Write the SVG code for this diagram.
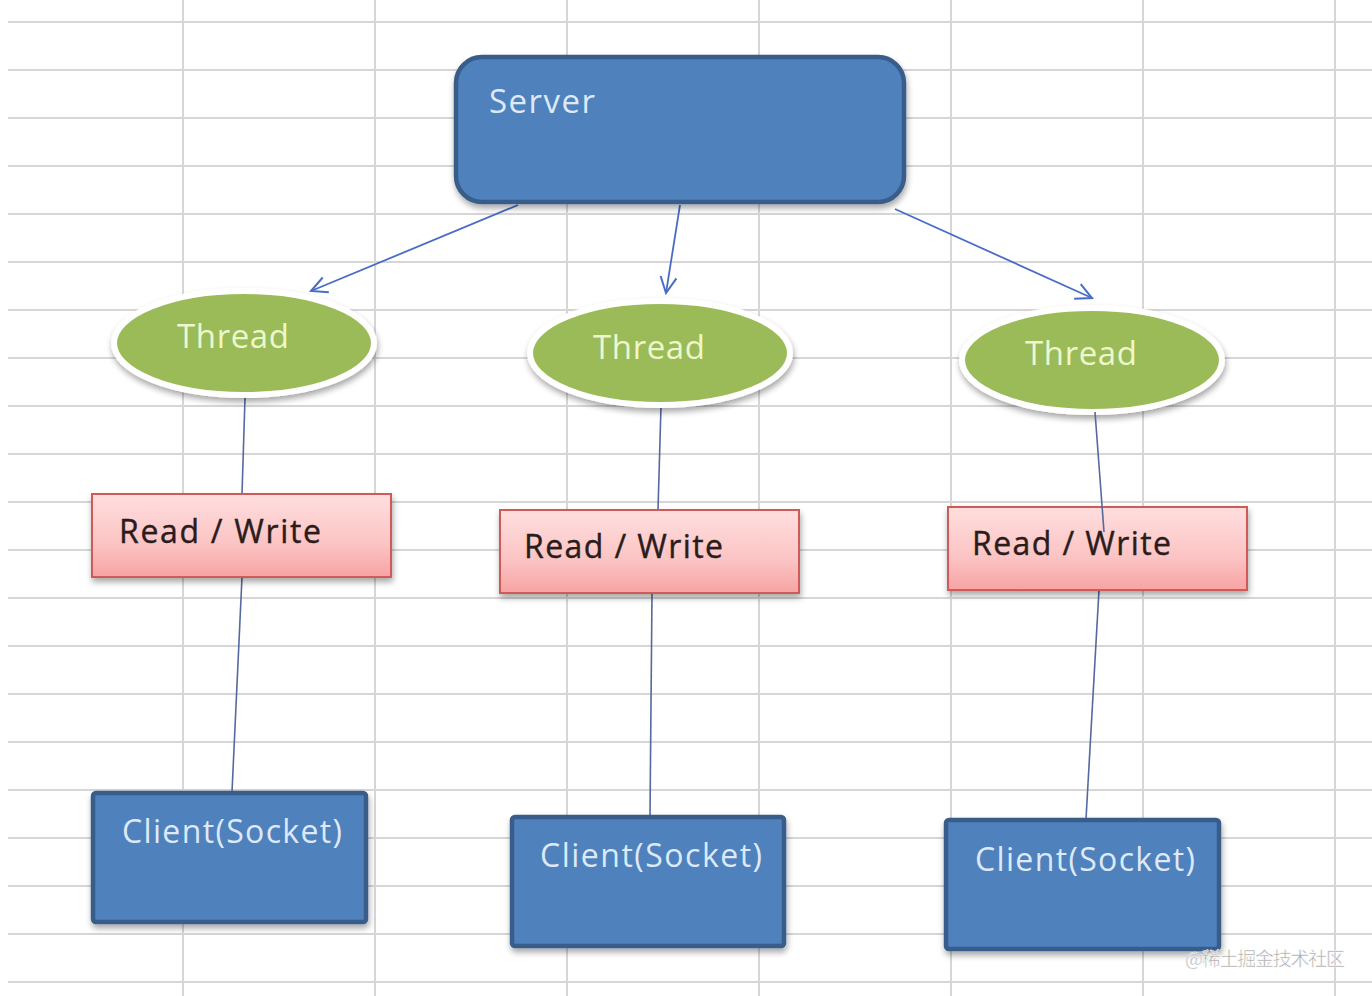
<svg xmlns="http://www.w3.org/2000/svg" width="1372" height="996" viewBox="0 0 1372 996">
<defs>
<style>
.grid line{stroke:#d6d6d6;stroke-width:2}
.blue{fill:#4f81bd;stroke:#385d8a;stroke-width:4.5}
.wt{font-family:"Open Sans","Liberation Sans",sans-serif;fill:#dde9f8}
.tt{font-family:"Open Sans","Liberation Sans",sans-serif;fill:#ecf8cc;font-size:33px}
.rw{fill:url(#pink);stroke:#d05a58;stroke-width:2}
.rt{font-family:"Open Sans","Liberation Sans",sans-serif;fill:#2b1c1c;font-size:32px;stroke:#2b1c1c;stroke-width:0.4}
.ell{fill:#9bbb59;stroke:#ffffff;stroke-width:6}
.conn line{stroke:#56699f;stroke-width:1.6;fill:none}
.conn .arr{stroke:#4a6cc6;stroke-width:1.8}
</style>
<linearGradient id="pink" x1="0" y1="0" x2="0" y2="1">
<stop offset="0" stop-color="#ffdede"/>
<stop offset="0.6" stop-color="#fcc4c4"/>
<stop offset="1" stop-color="#f7a3a3"/>
</linearGradient>
<filter id="sh" x="-10%" y="-10%" width="120%" height="130%">
<feGaussianBlur in="SourceAlpha" stdDeviation="3"/>
<feOffset dx="1" dy="4" result="b"/>
<feComponentTransfer><feFuncA type="linear" slope="0.35"/></feComponentTransfer>
<feMerge><feMergeNode/><feMergeNode in="SourceGraphic"/></feMerge>
</filter>
<marker id="ah" viewBox="0 0 20 20" refX="18" refY="10" markerWidth="20" markerHeight="20" markerUnits="userSpaceOnUse" orient="auto">
<path d="M2,2 L18,10 L2,18" fill="none" stroke="#4a6cc6" stroke-width="2"/>
</marker>
</defs>
<rect width="1372" height="996" fill="#ffffff"/>
<g class="grid">
<line x1="8" y1="22" x2="1372" y2="22"/>
<line x1="8" y1="70" x2="1372" y2="70"/>
<line x1="8" y1="118" x2="1372" y2="118"/>
<line x1="8" y1="166" x2="1372" y2="166"/>
<line x1="8" y1="214" x2="1372" y2="214"/>
<line x1="8" y1="262" x2="1372" y2="262"/>
<line x1="8" y1="310" x2="1372" y2="310"/>
<line x1="8" y1="358" x2="1372" y2="358"/>
<line x1="8" y1="406" x2="1372" y2="406"/>
<line x1="8" y1="454" x2="1372" y2="454"/>
<line x1="8" y1="502" x2="1372" y2="502"/>
<line x1="8" y1="550" x2="1372" y2="550"/>
<line x1="8" y1="598" x2="1372" y2="598"/>
<line x1="8" y1="646" x2="1372" y2="646"/>
<line x1="8" y1="694" x2="1372" y2="694"/>
<line x1="8" y1="742" x2="1372" y2="742"/>
<line x1="8" y1="790" x2="1372" y2="790"/>
<line x1="8" y1="838" x2="1372" y2="838"/>
<line x1="8" y1="886" x2="1372" y2="886"/>
<line x1="8" y1="934" x2="1372" y2="934"/>
<line x1="8" y1="982" x2="1372" y2="982"/>
<line x1="183" y1="0" x2="183" y2="996"/>
<line x1="375" y1="0" x2="375" y2="996"/>
<line x1="567" y1="0" x2="567" y2="996"/>
<line x1="759" y1="0" x2="759" y2="996"/>
<line x1="951" y1="0" x2="951" y2="996"/>
<line x1="1143" y1="0" x2="1143" y2="996"/>
<line x1="1335" y1="0" x2="1335" y2="996"/>
</g>
<g class="conn">
<line class="arr" x1="518" y1="205" x2="311" y2="291" marker-end="url(#ah)"/>
<line class="arr" x1="680" y1="205" x2="666" y2="293" marker-end="url(#ah)"/>
<line class="arr" x1="895" y1="209" x2="1092" y2="298" marker-end="url(#ah)"/>
<line x1="245" y1="398" x2="242" y2="494"/>
<line x1="242" y1="577" x2="232" y2="792"/>
<line x1="661" y1="406" x2="658" y2="510"/>
<line x1="652" y1="593" x2="650" y2="816"/>
<line x1="1099" y1="590" x2="1086" y2="819"/>
</g>
<g id="server">
<rect class="blue" x="456" y="57" width="448" height="145" rx="26" filter="url(#sh)"/>
<text class="wt" x="489" y="113" font-size="33" textLength="106">Server</text>
</g>
<g id="thread1">
<ellipse class="ell" cx="244" cy="343" rx="130" ry="52" filter="url(#sh)"/>
<text class="tt" x="233" y="348" text-anchor="middle" textLength="112">Thread</text>
</g>
<g id="thread2">
<ellipse class="ell" cx="660" cy="353" rx="130" ry="52" filter="url(#sh)"/>
<text class="tt" x="649" y="359" text-anchor="middle" textLength="112">Thread</text>
</g>
<g id="thread3">
<ellipse class="ell" cx="1092" cy="360" rx="130" ry="52" filter="url(#sh)"/>
<text class="tt" x="1081" y="365" text-anchor="middle" textLength="112">Thread</text>
</g>
<g id="rw1">
<rect class="rw" x="92" y="494" width="299" height="83" filter="url(#sh)"/>
<text class="rt" x="119" y="543" textLength="202">Read / Write</text>
</g>
<g id="rw2">
<rect class="rw" x="500" y="510" width="299" height="83" filter="url(#sh)"/>
<text class="rt" x="524" y="558" textLength="199">Read / Write</text>
</g>
<g id="rw3">
<rect class="rw" x="948" y="507" width="299" height="83" filter="url(#sh)"/>
<text class="rt" x="972" y="555" textLength="199">Read / Write</text>
</g>
<g class="conn">
<line x1="1095" y1="412" x2="1104" y2="532"/>
</g>
<g id="client1">
<rect class="blue" x="93" y="793" width="273" height="129" rx="3" filter="url(#sh)"/>
<text class="wt" x="122" y="843" font-size="32" textLength="220">Client(Socket)</text>
</g>
<g id="client2">
<rect class="blue" x="512" y="817" width="272" height="129" rx="3" filter="url(#sh)"/>
<text class="wt" x="540" y="867" font-size="32" textLength="222">Client(Socket)</text>
</g>
<g id="client3">
<rect class="blue" x="946" y="820" width="273" height="129" rx="3" filter="url(#sh)"/>
<text class="wt" x="975" y="871" font-size="32" textLength="220">Client(Socket)</text>
</g>
<text x="1185" y="966" font-family="'Noto Sans CJK SC',sans-serif" font-size="19" fill="#a8a8a8" stroke="#ffffff" stroke-width="0.5" textLength="160">@稀土掘金技术社区</text>
</svg>
